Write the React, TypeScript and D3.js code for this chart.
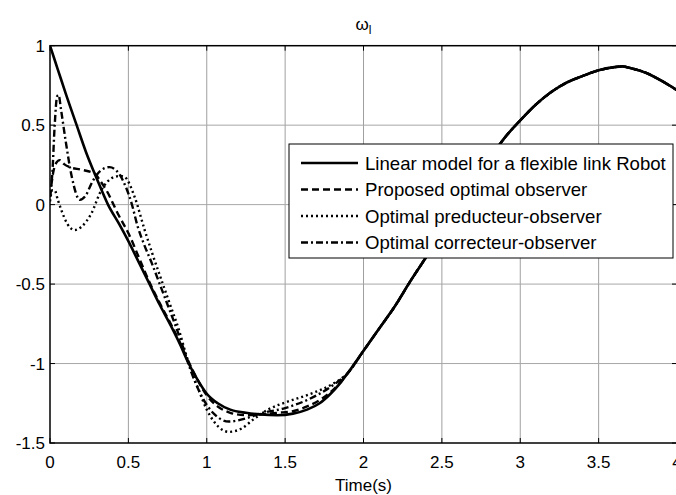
import React from "react";
import * as d3 from "d3";

const X_TICKS = [0, 0.5, 1, 1.5, 2, 2.5, 3, 3.5, 4];
const Y_TICKS = [-1.5, -1, -0.5, 0, 0.5, 1];
const X_LABELS = ["0", "0.5", "1", "1.5", "2", "2.5", "3", "3.5", "4"];
const Y_LABELS = ["-1.5", "-1", "-0.5", "0", "0.5", "1"];

const LEGEND = [
  "Linear model for a flexible link Robot",
  "Proposed optimal observer",
  "Optimal preducteur-observer",
  "Optimal correcteur-observer",
];

// common part after the estimators converge to the model (t >= 1.95)
const TAIL_T = [2.0, 2.1, 2.2, 2.3, 2.4, 2.5, 2.6, 2.7, 2.8, 2.9, 3.0, 3.1, 3.2, 3.3, 3.4, 3.5, 3.6, 3.65, 3.7, 3.8, 3.9, 4.0];
const TAIL_V = [-0.92, -0.78, -0.64, -0.48, -0.33, -0.18, -0.03, 0.13, 0.28, 0.42, 0.53, 0.63, 0.71, 0.77, 0.81, 0.845, 0.865, 0.87, 0.86, 0.83, 0.78, 0.72];

// Linear model
const MODEL_T = [0, 0.05, 0.1, 0.17, 0.23, 0.3, 0.37, 0.44, 0.5, 0.57, 0.64, 0.7, 0.77, 0.83, 0.88, 0.94, 1.0, 1.07, 1.15, 1.25, 1.34, 1.45, 1.55, 1.64, 1.72, 1.79, 1.85, 1.9];
const MODEL_V = [1.0, 0.85, 0.7, 0.5, 0.33, 0.16, 0.0, -0.12, -0.23, -0.37, -0.51, -0.63, -0.76, -0.88, -0.99, -1.1, -1.19, -1.25, -1.29, -1.31, -1.32, -1.325, -1.315, -1.29, -1.25, -1.19, -1.125, -1.06];

// Proposed optimal observer (dashed)
const PROP_T = [0, 0.02, 0.045, 0.062, 0.09, 0.125, 0.2, 0.285, 0.32, 0.36, 0.433, 0.51, 0.57, 0.64, 0.7, 0.77, 0.83, 0.88, 0.94, 1.0, 1.07, 1.15, 1.25, 1.34, 1.45, 1.55, 1.64, 1.72, 1.79, 1.85, 1.9];
const PROP_V = [0.05, 0.2, 0.27, 0.28, 0.255, 0.236, 0.22, 0.195, 0.15, 0.09, -0.057, -0.2, -0.34, -0.5, -0.62, -0.75, -0.87, -0.98, -1.1, -1.2, -1.27, -1.31, -1.325, -1.32, -1.31, -1.3, -1.27, -1.23, -1.18, -1.12, -1.06];

// Optimal predicteur-observer (dotted)
const PRED_T = [0, 0.015, 0.03, 0.05, 0.073, 0.11, 0.157, 0.2, 0.263, 0.327, 0.41, 0.45, 0.476, 0.54, 0.604, 0.65, 0.72, 0.77, 0.82, 0.87, 0.9, 0.95, 1.0, 1.05, 1.14, 1.22, 1.3, 1.4, 1.5, 1.65, 1.8, 1.9];
const PRED_V = [0.02, 0.09, 0.09, 0.03, -0.036, -0.12, -0.16, -0.14, -0.057, 0.09, 0.174, 0.18, 0.174, 0.048, -0.16, -0.3, -0.5, -0.64, -0.78, -0.95, -1.04, -1.17, -1.29, -1.37, -1.43, -1.41, -1.35, -1.285, -1.245, -1.195, -1.13, -1.06];

// Optimal correcteur-observer (dash-dot)
const CORR_T = [0, 0.015, 0.03, 0.045, 0.055, 0.07, 0.1, 0.14, 0.19, 0.23, 0.263, 0.3, 0.34, 0.38, 0.44, 0.48, 0.52, 0.56, 0.6, 0.65, 0.7, 0.75, 0.8, 0.85, 0.9, 0.95, 1.0, 1.05, 1.14, 1.25, 1.34, 1.5, 1.65, 1.8, 1.9];
const CORR_V = [0.05, 0.2, 0.5, 0.68, 0.69, 0.6, 0.4, 0.17, 0.03, 0.06, 0.13, 0.19, 0.226, 0.236, 0.195, 0.12, 0.01, -0.14, -0.25, -0.37, -0.5, -0.63, -0.76, -0.9, -1.05, -1.17, -1.26, -1.32, -1.365, -1.345, -1.315, -1.28, -1.225, -1.14, -1.06];

const W = 676;
const H = 495;
const L = 50;
const R = 677;
const T = 45.7;
const B = 443;
const FONT = "'Liberation Sans', Arial, sans-serif";

export default function App() {
  const x = d3.scaleLinear().domain([0, 4]).range([L, R]);
  const y = d3.scaleLinear().domain([-1.5, 1]).range([B, T]);

  const mk = (ts: number[], vs: number[]) =>
    ts.map((t, i) => [t, vs[i]] as [number, number]).concat(TAIL_T.map((t, i) => [t, TAIL_V[i]] as [number, number]));

  const line = d3
    .line<[number, number]>()
    .x((d) => x(d[0]))
    .y((d) => y(d[1]))
    .curve(d3.curveMonotoneX);

  const series = [
    { data: mk(MODEL_T, MODEL_V), dash: "none", w: 2.6 },
    { data: mk(PROP_T, PROP_V), dash: "7,4", w: 2.4 },
    { data: mk(PRED_T, PRED_V), dash: "2,3", w: 2.4 },
    { data: mk(CORR_T, CORR_V), dash: "7,3,2,3", w: 2.4 },
  ];

  const legX = 289;
  const legY = 144;
  const legW = 384;
  const legH = 114;
  const rowH = 26.5;

  return (
    <svg width={W} height={H} style={{ position: "absolute", left: 0, top: 0, background: "#fff" }}>
      <rect x={0} y={0} width={W} height={H} fill="#fff" />
      <defs>
        <clipPath id="plot">
          <rect x={L} y={T} width={R - L} height={B - T} />
        </clipPath>
      </defs>
      {/* grid */}
      {X_TICKS.slice(1, -1).map((t) => (
        <line key={"gx" + t} x1={x(t)} x2={x(t)} y1={T} y2={B} stroke="#a0a0a0" strokeWidth={1} />
      ))}
      {Y_TICKS.slice(1, -1).map((v) => (
        <line key={"gy" + v} x1={L} x2={R} y1={y(v)} y2={y(v)} stroke="#a8a8a8" strokeWidth={1} />
      ))}
      {/* ticks */}
      {X_TICKS.map((t) => (
        <g key={"tx" + t}>
          <line x1={x(t)} x2={x(t)} y1={B} y2={B - 5} stroke="#000" />
          <line x1={x(t)} x2={x(t)} y1={T} y2={T + 5} stroke="#000" />
        </g>
      ))}
      {Y_TICKS.map((v) => (
        <g key={"ty" + v}>
          <line x1={L} x2={L + 5} y1={y(v)} y2={y(v)} stroke="#000" />
          <line x1={R} x2={R - 5} y1={y(v)} y2={y(v)} stroke="#000" />
        </g>
      ))}
      {/* series */}
      <g clipPath="url(#plot)">
        {series.map((s, i) => (
          <path
            key={i}
            d={line(s.data) || ""}
            fill="none"
            stroke="#000"
            strokeWidth={s.w}
            strokeDasharray={s.dash}
            strokeLinejoin="round"
          />
        ))}
      </g>
      {/* axes box */}
      <rect x={L} y={T} width={R - L} height={B - T} fill="none" stroke="#000" strokeWidth={1.5} />
      {/* tick labels */}
      {X_TICKS.map((t, i) => (
        <text key={"lx" + t} x={x(t)} y={468} textAnchor="middle" fontFamily={FONT} fontSize={17}>
          {X_LABELS[i]}
        </text>
      ))}
      {Y_TICKS.map((v, i) => (
        <text key={"ly" + v} x={45} y={y(v) + 6} textAnchor="end" fontFamily={FONT} fontSize={17}>
          {Y_LABELS[i]}
        </text>
      ))}
      <text x={(L + R) / 2} y={491} textAnchor="middle" fontFamily={FONT} fontSize={17}>
        Time(s)
      </text>
      <text x={(L + R) / 2} y={30} textAnchor="middle" fontFamily={FONT} fontSize={17}>
        ω<tspan fontSize={12} dy={4}>l</tspan>
      </text>
      {/* legend */}
      <rect x={legX} y={legY} width={legW} height={legH} fill="#fff" stroke="#000" strokeWidth={1} />
      {LEGEND.map((name, i) => {
        const cy = legY + 19 + i * rowH;
        return (
          <g key={name}>
            <line
              x1={301}
              x2={358}
              y1={cy}
              y2={cy}
              stroke="#000"
              strokeWidth={series[i].w}
              strokeDasharray={series[i].dash}
            />
            <text x={365} y={cy + 6.5} fontFamily={FONT} fontSize={18.6}>
              {name}
            </text>
          </g>
        );
      })}
    </svg>
  );
}
